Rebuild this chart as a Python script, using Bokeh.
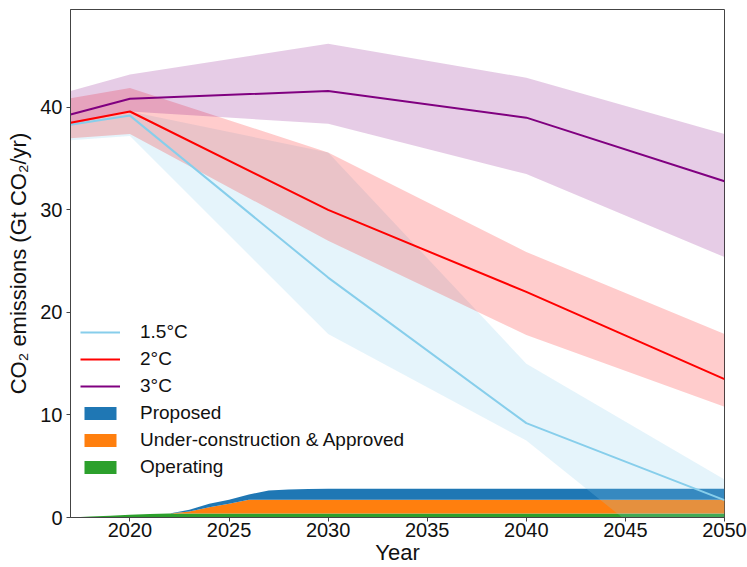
from bokeh.plotting import figure
from bokeh.models import ColumnDataSource, Legend, LegendItem, Range1d, FixedTicker
from bokeh.embed import file_html
from bokeh.resources import INLINE

# Scenario pathways: median and range (Gt CO2/yr)
scen_years = [2017, 2020, 2030, 2040, 2050]

c15_mid = [38.3, 39.2, 23.4, 9.2, 1.7]
c15_low = [36.8, 37.2, 17.9, 7.5, -8.0]
c15_high = [38.6, 39.6, 35.6, 15.0, 3.7]

c2_mid = [38.5, 39.6, 30.0, 22.0, 13.5]
c2_low = [37.0, 37.4, 27.0, 17.8, 10.8]
c2_high = [40.9, 41.9, 35.6, 25.9, 17.9]

c3_mid = [39.3, 40.85, 41.6, 39.0, 32.8]
c3_low = [38.3, 39.6, 38.4, 33.5, 25.4]
c3_high = [41.6, 43.2, 46.2, 42.9, 37.4]

# Committed emissions from plants by status (Gt CO2/yr)
plant_years = [2017, 2018, 2019, 2020, 2021, 2022, 2023, 2024, 2025, 2026,
               2027, 2028, 2029, 2030, 2050]
operating = [0.0, 0.10, 0.18, 0.27, 0.33, 0.38, 0.40, 0.40, 0.40, 0.40,
             0.40, 0.40, 0.40, 0.40, 0.40]
under_construction = [0.0, 0.0, 0.0, 0.0, 0.0, 0.02, 0.18, 0.60, 0.93, 1.33,
                      1.33, 1.33, 1.33, 1.33, 1.33]
proposed = [0.0, 0.0, 0.0, 0.0, 0.0, 0.0, 0.17, 0.33, 0.40, 0.51,
            0.90, 1.00, 1.04, 1.07, 1.07]

x_ticks = [2020, 2025, 2030, 2035, 2040, 2045, 2050]
y_ticks = [0, 10, 20, 30, 40]

FONT = "Liberation Sans"
TEXT = "#111111"

p = figure(width=747, height=567, output_backend="svg", toolbar_location=None,
           x_range=Range1d(2017, 2050), y_range=Range1d(0, 49.55),
           min_border_left=70, min_border_right=23, min_border_top=9,
           min_border_bottom=50)
p.xgrid.visible = False
p.ygrid.visible = False
p.outline_line_color = "#444444"
p.outline_line_width = 1
p.outline_line_alpha = 1

# Stacked plant emissions
plants = ColumnDataSource(dict(year=plant_years, operating=operating,
                               under=under_construction, proposed=proposed))
stack = p.varea_stack(stackers=["operating", "under", "proposed"], x="year",
                      source=plants, color=["#2ca02c", "#ff7f0e", "#1f77b4"])

# Scenario ranges and medians
scen = ColumnDataSource(dict(year=scen_years,
                             c15_mid=c15_mid, c15_low=c15_low, c15_high=c15_high,
                             c2_mid=c2_mid, c2_low=c2_low, c2_high=c2_high,
                             c3_mid=c3_mid, c3_low=c3_low, c3_high=c3_high))

p.varea(x="year", y1="c15_low", y2="c15_high", source=scen,
        fill_color="skyblue", fill_alpha=0.22)
p.varea(x="year", y1="c2_low", y2="c2_high", source=scen,
        fill_color="red", fill_alpha=0.2)
p.varea(x="year", y1="c3_low", y2="c3_high", source=scen,
        fill_color="purple", fill_alpha=0.2)

l15 = p.line(x="year", y="c15_mid", source=scen, line_color="skyblue", line_width=2)
l2 = p.line(x="year", y="c2_mid", source=scen, line_color="red", line_width=2)
l3 = p.line(x="year", y="c3_mid", source=scen, line_color="purple", line_width=2)

legend = Legend(items=[
    LegendItem(label="1.5°C", renderers=[l15]),
    LegendItem(label="2°C", renderers=[l2]),
    LegendItem(label="3°C", renderers=[l3]),
    LegendItem(label="Proposed", renderers=[stack[2]]),
    LegendItem(label="Under-construction & Approved", renderers=[stack[1]]),
    LegendItem(label="Operating", renderers=[stack[0]]),
], location=(10, 39))
legend.border_line_color = None
legend.background_fill_alpha = 0
legend.label_text_font = FONT
legend.label_text_font_size = "19px"
legend.label_text_color = TEXT
legend.glyph_width = 40
legend.glyph_height = 16
legend.label_height = 20
legend.spacing = 5
legend.label_standoff = 20
legend.padding = 2
legend.margin = 0
p.add_layout(legend, "center")

for ax in (p.xaxis, p.yaxis):
    ax.major_label_text_font = FONT
    ax.major_label_text_font_size = "20px"
    ax.major_label_text_color = TEXT
    ax.axis_label_text_font = FONT
    ax.axis_label_text_font_size = "22px"
    ax.axis_label_text_font_style = "normal"
    ax.axis_label_text_color = TEXT
    ax.axis_line_color = "#444444"
    ax.major_tick_line_color = "#444444"
    ax.major_tick_in = 0
    ax.major_tick_out = 4
    ax.minor_tick_line_color = None

p.xaxis.ticker = FixedTicker(ticks=x_ticks)
p.yaxis.ticker = FixedTicker(ticks=y_ticks)
p.xaxis.axis_label = "Year"
p.yaxis.axis_label = "CO₂ emissions (Gt CO₂/yr)"
p.xaxis.axis_label_standoff = 0
p.yaxis.axis_label_standoff = 6
p.xaxis.major_label_standoff = 1
p.yaxis.major_label_standoff = 4

open("out.html", "w").write(file_html(p, INLINE))
